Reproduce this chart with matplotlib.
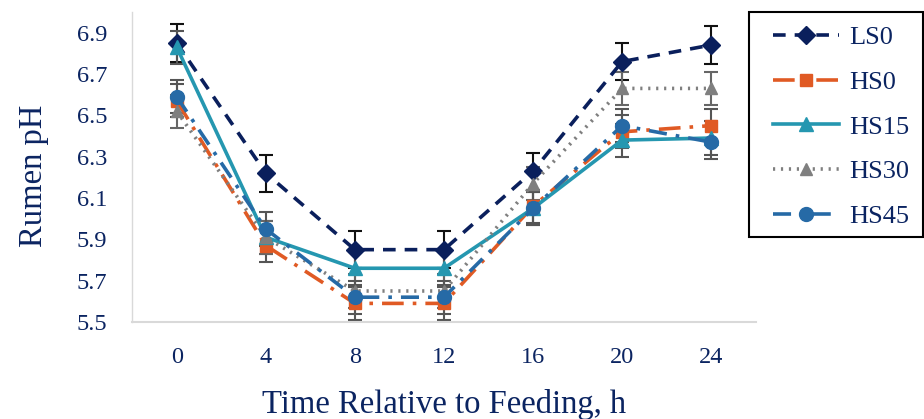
import matplotlib.pyplot as plt
from matplotlib.lines import Line2D
from matplotlib.patches import Rectangle

hours = ["0", "4", "8", "12", "16", "20", "24"]
ls0 = [6.85, 6.22, 5.85, 5.85, 6.23, 6.76, 6.84]
hs0 = [6.57, 5.87, 5.59, 5.59, 6.06, 6.42, 6.45]
hs15 = [6.83, 5.91, 5.76, 5.76, 6.05, 6.38, 6.39]
hs30 = [6.52, 5.91, 5.65, 5.65, 6.17, 6.63, 6.63]
hs45 = [6.59, 5.95, 5.62, 5.62, 6.05, 6.45, 6.37]
ls0_se = [0.09, 0.09, 0.09, 0.09, 0.09, 0.09, 0.09]
hs_se = [0.08, 0.08, 0.08, 0.08, 0.08, 0.08, 0.08]

navy = "#0b2461"
plt.rcParams["font.family"] = ["Liberation Serif", "DejaVu Serif"]

fig = plt.figure(figsize=(9.24, 4.19), dpi=100)
ax = fig.add_axes([0.143, 0.2315, 0.675, 0.74])

x = list(range(len(hours)))
series = [
    ("LS0", ls0, ls0_se, "#0a1f5c", "D", (0, (3.5, 2.5)), 9.5, "#111111"),
    ("HS0", hs0, hs_se, "#e05a24", "s", (0, (6, 2.5, 1, 2.5)), 9, "#555555"),
    ("HS15", hs15, hs_se, "#2597b0", "^", "-", 10, "#555555"),
    ("HS30", hs30, hs_se, "#7f7f7f", "^", (0, (0.6, 1.6)), 8, "#666666"),
    ("HS45", hs45, hs_se, "#266aa6", "o", (0, (5, 2.5, 1, 2.5)), 10, "#555555"),
]

handles = []
for name, vals, se, col, mk, ls, ms, ecol in series:
    ax.errorbar(x, vals, yerr=se, fmt="none", ecolor=ecol, elinewidth=1.5,
                capsize=5, capthick=1.5, clip_on=False, zorder=2)
for name, vals, se, col, mk, ls, ms, ecol in series:
    ax.plot(x, vals, color=col, linestyle=ls, linewidth=2.6, marker=mk,
            markersize=ms, markeredgecolor=col, clip_on=False, zorder=3)
    handles.append(Line2D([], [], color=col, linestyle=ls, linewidth=2.6,
                          marker=mk, markersize=ms, markeredgecolor=col))

ax.set_xlim(-0.5, len(hours) - 0.5)
ax.set_ylim(5.5, 7.0)
ax.set_yticks([5.5, 5.7, 5.9, 6.1, 6.3, 6.5, 6.7, 6.9])
ax.set_yticklabels(["5.5", "5.7", "5.9", "6.1", "6.3", "6.5", "6.7", "6.9"])
ax.set_xticks(x)
ax.set_xticklabels(hours)
ax.tick_params(length=0, labelsize=17.5, labelcolor=navy)
ax.tick_params(axis="x", pad=18)
ax.tick_params(axis="y", pad=18)

for s in ["top", "right"]:
    ax.spines[s].set_visible(False)
ax.spines["left"].set_color("#d9d9d9")
ax.spines["bottom"].set_color("#d9d9d9")
ax.spines["left"].set_linewidth(1)
ax.spines["bottom"].set_linewidth(1.5)

ax.set_xlabel("Time Relative to Feeding, h", fontsize=23.5, color=navy, labelpad=15)
ax.set_ylabel("Rumen pH", fontsize=23.5, color=navy)
ax.yaxis.set_label_coords(-0.134, 0.47)

leg = fig.legend(handles, [s[0] for s in series], loc="upper left",
                 bbox_to_anchor=(0.8366, 0.938), fontsize=19, labelcolor=navy,
                 frameon=False, handlelength=2.5, labelspacing=0.8,
                 borderpad=0, handletextpad=0.38, borderaxespad=0)

# legend box drawn separately so the padding matches the original
fig.patches.append(Rectangle((749 / 924, 1 - 237 / 419), 174 / 924, 225 / 419,
                             transform=fig.transFigure, fill=False,
                             edgecolor="black", linewidth=1.5))

fig.savefig("out.png", dpi=100)
